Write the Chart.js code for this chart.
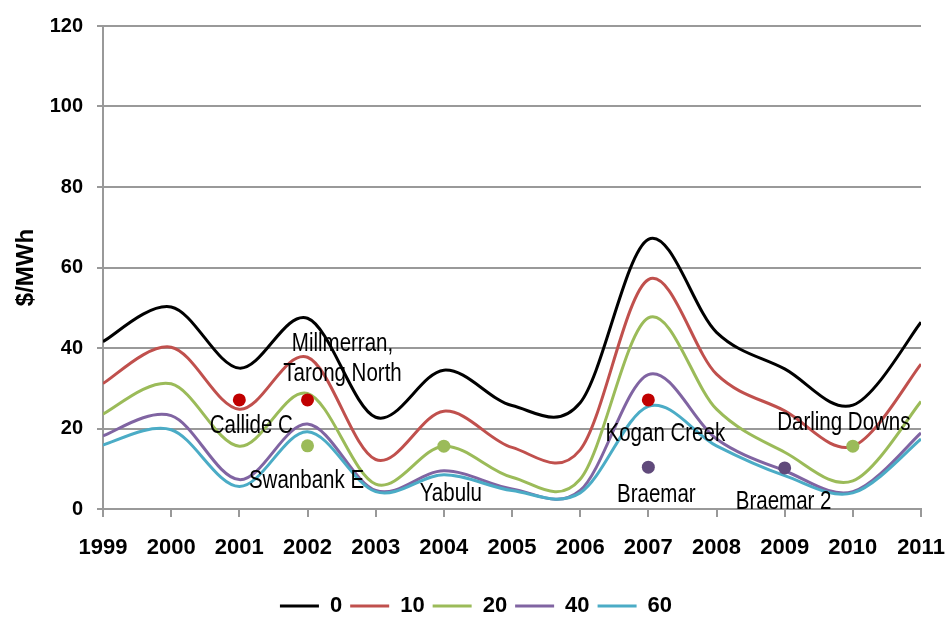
<!DOCTYPE html>
<html><head><meta charset="utf-8">
<script src="https://cdn.jsdelivr.net/npm/chart.js@4"></script>
<style>html,body{margin:0;padding:0;background:#fff}#wrap{width:952px;height:617px;position:relative}</style>
</head><body><div id="wrap"><canvas id="c"></canvas></div>
<script>
// ---- data ----
const years = [1999,2000,2001,2002,2003,2004,2005,2006,2007,2008,2009,2010,2011];
const seriesNames = ['0','10','20','40','60'];
const s0  = [41.6,50.2,35.0,47.4,22.8,34.5,25.7,26.4,67.0,43.9,34.8,25.8,46.4];
const s10 = [31.2,40.2,24.8,37.7,12.3,24.3,15.3,14.7,57.0,33.5,24.4,15.6,36.0];
const s20 = [23.6,31.1,15.6,28.7,6.2,15.6,7.9,7.4,47.5,24.8,14.1,7.0,26.7];
const s40 = [18.2,23.2,7.3,21.1,4.6,9.5,5.0,4.6,33.4,17.4,9.5,4.3,18.9];
const s60 = [15.9,19.7,5.6,19.2,4.3,8.5,4.6,4.0,25.5,15.7,8.3,4.0,17.4];
const plantNames  = [['Callide C'],['Millmerran,','Tarong North'],['Swanbank E'],['Yabulu'],['Kogan Creek'],['Braemar'],['Braemar 2'],['Darling Downs']];
const plantYears  = [2001,2002,2002,2004,2007,2007,2009,2010];
const plantValues = [27.1,27.1,15.7,15.6,27.1,10.4,10.2,15.6];
const yMin = 0, yMax = 120, yStep = 20;
const yTitle = '$/MWh';

// ---- styles ----
const seriesColors = ['#000000','#C0504D','#9BBB59','#8064A2','#4BACC6'];
const plantColors = ['#C00000','#C00000','#9BBB59','#9BBB59','#C00000','#604A7B','#604A7B','#9BBB59'];
const labelOffsets = [[[12,26]],[[35,-56],[35,-26]],[[-1,35]],[[7,48]],[[17,34]],[[8,28]],[[-1,34]],[[-9,-23]]];
const FONT = "'Liberation Sans',Arial,sans-serif";

const allSeries = [s0,s10,s20,s40,s60];
const datasets = allSeries.map((vals,i)=>({
  label: seriesNames[i],
  data: years.map((y,j)=>({x:y,y:vals[j]})),
  borderColor: seriesColors[i],
  backgroundColor: seriesColors[i],
  borderWidth: 3,
  pointRadius: 0,
  pointHoverRadius: 0,
  tension: 0.4,
  fill: false,
  order: 10 - i
}));
datasets.push({
  label: '__plants',
  data: plantYears.map((y,j)=>({x:y,y:plantValues[j]})),
  showLine: false,
  pointRadius: 6.5,
  pointBorderWidth: 0,
  pointBackgroundColor: plantColors,
  pointBorderColor: plantColors,
  order: 0
});

// Excel-style smoothing: uniform Catmull-Rom control points on the library's own point elements
const excelSmooth = {
  id: 'excelSmooth',
  beforeDatasetsDraw(chart){
    chart.getSortedVisibleDatasetMetas().forEach(meta=>{
      const ds = chart.data.datasets[meta.index];
      if (meta.type !== 'line' || !meta.dataset || ds.showLine === false) return;
      const pts = meta.data, n = pts.length;
      for (let i=0;i<n;i++){
        const p = pts[i], prev = pts[Math.max(i-1,0)], next = pts[Math.min(i+1,n-1)];
        const tx = (next.x - prev.x)/6, ty = (next.y - prev.y)/6;
        p.cp1x = p.x - tx; p.cp1y = p.y - ty;
        p.cp2x = p.x + tx; p.cp2y = p.y + ty;
      }
      meta.dataset._pointsUpdated = true;
      meta.dataset._path = undefined;
    });
  }
};

const plantLabels = {
  id: 'plantLabels',
  afterDatasetsDraw(chart){
    const ctx = chart.ctx, xs = chart.scales.x, ys = chart.scales.y;
    ctx.save();
    ctx.font = "25px " + FONT;
    ctx.fillStyle = '#000';
    ctx.textAlign = 'center';
    ctx.textBaseline = 'middle';
    plantNames.forEach((lines,i)=>{
      const px = xs.getPixelForValue(plantYears[i]);
      const py = ys.getPixelForValue(plantValues[i]);
      lines.forEach((t,k)=>{
        const o = labelOffsets[i][k];
        ctx.save();
        ctx.translate(px + o[0], py + o[1]);
        ctx.scale(0.82, 1);
        ctx.fillText(t, 0, 0);
        ctx.restore();
      });
    });
    ctx.restore();
  }
};

new Chart(document.getElementById('c'), {
  type: 'line',
  data: { datasets },
  plugins: [excelSmooth, plantLabels],
  options: {
    responsive: true,
    maintainAspectRatio: false,
    animation: false,
    events: [],
    layout: { padding: { top: 25, right: 0, left: 0, bottom: -10 } },
    scales: {
      x: {
        type: 'linear', min: years[0], max: years[years.length-1],
        afterFit(s){ s.height = 78; s.paddingRight = 31; s.paddingLeft = 0; },
        ticks: { stepSize: 1, padding: 18, color: '#000', font: { family: FONT, size: 22, weight: 'bold' }, callback: v => String(v), maxRotation: 0, autoSkip: false },
        grid: { drawOnChartArea: false, drawTicks: true, tickLength: 8, color: '#999', lineWidth: 2 },
        border: { display: true, color: '#999', width: 2 }
      },
      y: {
        min: yMin, max: yMax,
        afterFit(s){ s.width = 103; },
        ticks: { stepSize: yStep, padding: 14, color: '#000', font: { family: FONT, size: 20, weight: 'bold' } },
        grid: { color: '#999', lineWidth: 2, tickLength: 6, drawTicks: true },
        border: { display: true, color: '#999', width: 2 },
        title: { display: true, text: yTitle, color: '#000', font: { family: FONT, size: 24, weight: 'bold' }, padding: { top: 12, bottom: 0 } }
      }
    },
    plugins: {
      tooltip: { enabled: false },
      legend: {
        position: 'bottom',
        labels: {
          boxWidth: 39, boxHeight: 3, padding: 8, color: '#000',
          font: { family: FONT, size: 22, weight: 'bold' },
          generateLabels(chart){
            const items = Chart.defaults.plugins.legend.labels.generateLabels(chart);
            return items.filter(it => it.text !== '__plants')
              .sort((a,b)=>a.datasetIndex-b.datasetIndex)
              .map(it => Object.assign(it, { lineWidth: 0, fillStyle: it.strokeStyle }));
          }
        }
      }
    }
  }
});
</script>
</body></html>
